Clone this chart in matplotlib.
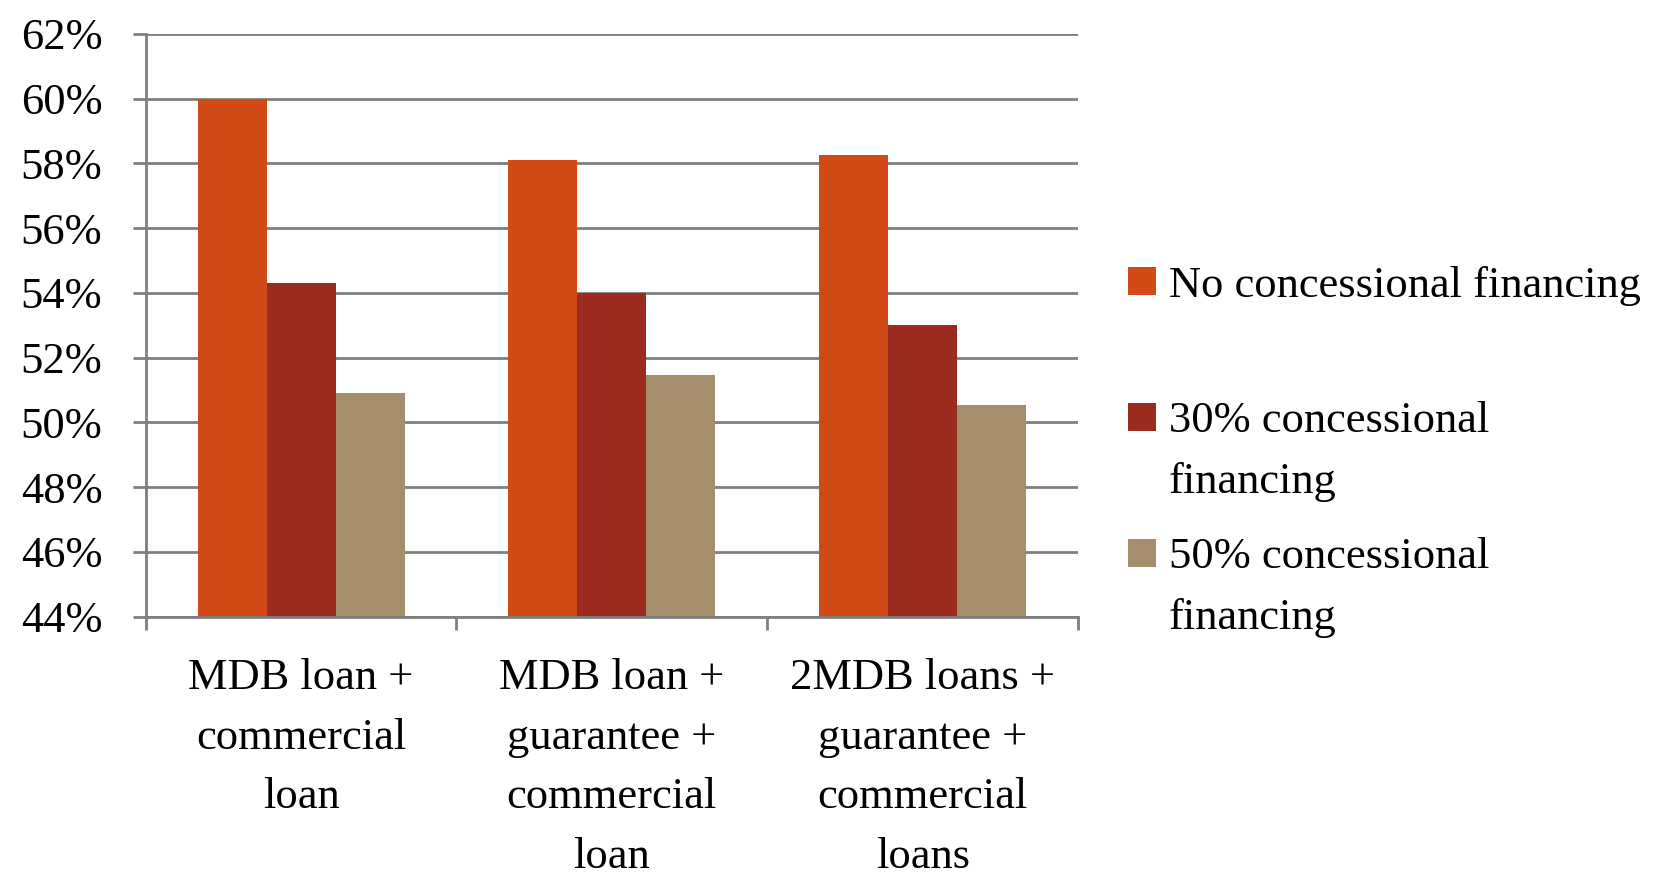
import matplotlib
matplotlib.use("Agg")
import matplotlib.pyplot as plt
from matplotlib.patches import Rectangle
from matplotlib.ticker import FixedLocator, FuncFormatter
import numpy as np

# Scenario categories and share values (fraction)
categories = [
    "MDB loan +\ncommercial\nloan",
    "MDB loan +\nguarantee +\ncommercial\nloan",
    "2MDB loans +\nguarantee +\ncommercial\nloans",
]
series_names = [
    "No concessional financing",
    "30% concessional\nfinancing",
    "50% concessional\nfinancing",
]
no_concessional = [0.600, 0.581, 0.5825]
concessional_30 = [0.543, 0.540, 0.530]
concessional_50 = [0.509, 0.5145, 0.5055]
y_ticks = [0.44, 0.46, 0.48, 0.50, 0.52, 0.54, 0.56, 0.58, 0.60, 0.62]

colors = ["#D24A18", "#9B2B1F", "#A58E6C"]
grid_gray = "#7F7F7F"
font = ["Liberation Serif", "DejaVu Serif"]
fs = 32

plt.rcParams["font.family"] = font

fig = plt.figure(figsize=(16.67, 8.76), dpi=100)
ax = fig.add_axes([0.0874, 0.2961, 0.5593, 0.6651])

x = np.arange(len(categories))
width = 0.222
all_series = [no_concessional, concessional_30, concessional_50]
for i, (vals, col) in enumerate(zip(all_series, colors)):
    ax.bar(x + (i - 1) * width, vals, width, bottom=0, color=col,
           edgecolor="none", zorder=3)

ax.set_xlim(-0.5, len(categories) - 0.5)
ax.set_ylim(y_ticks[0], y_ticks[-1])

# y axis: percent labels, gridlines, outward ticks
ax.yaxis.set_major_locator(FixedLocator(y_ticks))
ax.yaxis.set_major_formatter(FuncFormatter(lambda v, p: f"{v*100:.0f}%"))
ax.grid(axis="y", color=grid_gray, linewidth=2.0, zorder=0)
ax.tick_params(axis="y", which="major", direction="out", length=9.2,
               width=2.0, color=grid_gray, labelsize=fs, pad=22)

# x axis: category labels, boundary tick marks
ax.set_xticks(x)
ax.set_xticklabels(categories, fontsize=fs, linespacing=1.63)
ax.tick_params(axis="x", which="major", length=0, pad=30)
ax.set_xticks(np.arange(-0.5, len(categories)), minor=True)
ax.tick_params(axis="x", which="minor", direction="out", length=9.2,
               width=2.0, color=grid_gray)
for lbl in ax.get_xticklabels():
    lbl.set_verticalalignment("top")

for side in ["top", "right"]:
    ax.spines[side].set_visible(False)
for side in ["left", "bottom"]:
    ax.spines[side].set_color(grid_gray)
    ax.spines[side].set_linewidth(2.0)
    ax.spines[side].set_zorder(4)

# legend on the right, handles aligned with the first text line
W, H = 1667, 876
legend_rows = [281, 417, 553]
for name, col, yc in zip(series_names, colors, legend_rows):
    sq = 28
    fig.patches.append(Rectangle((1128 / W, (H - yc - sq / 2) / H), sq / W, sq / H,
                                 transform=fig.transFigure, facecolor=col,
                                 edgecolor="none"))
    fig.text(1169 / W, (H - yc) / H, name.split("\n")[0], fontsize=fs,
             va="center_baseline", ha="left")
    if "\n" in name:
        fig.text(1169 / W, (H - yc - 61) / H, name.split("\n")[1], fontsize=fs,
                 va="center_baseline", ha="left")

fig.savefig("out.png", dpi=100)
